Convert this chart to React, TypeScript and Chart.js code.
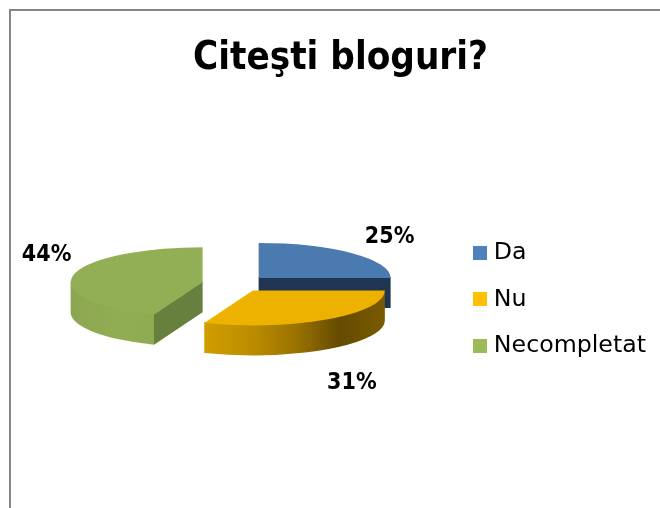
import React, { useEffect, useRef } from "react";
import { Chart, registerables } from "chart.js";

Chart.register(...registerables);

const categories = ["Da", "Nu", "Necompletat"];
const shares = [25, 31, 44];
const valueLabels = ["25%", "31%", "44%"];

const legendColors = ["#4F81BD", "#FFC000", "#9BBB59"];
const topColors = ["#4A7AB0", "#EDB200", "#93AF56"];
const cutFaceColors = ["#1F3552", "#8A6800", "#68803D"];
const wallStops: string[][] = [
  ["#2F4F78", "#2F4F78"],
  ["#D09E00", "#BE8E00", "#9B7400", "#654B00", "#7A5B00"],
  ["#8BA64F", "#8FAB52", "#92AE55", "#8FAB52"],
];
const explode = [32, 30, 34];
const labelNudge = [
  [131, -41],
  [99, 93],
  [-156, -27],
];

const TILT = 0.265;
const DEPTH = 30;
const RADIUS = 132;
const LIFT = -15.5;
const SHIFT_X = -4;
const BOLD = "'DejaVu Sans Condensed', 'DejaVu Sans', sans-serif";
const REGULAR = "'DejaVu Sans', sans-serif";

function swatch(color: string) {
  const c = document.createElement("canvas");
  c.width = 14;
  c.height = 14;
  const g = c.getContext("2d")!;
  g.fillStyle = color;
  g.fillRect(0, 0, 14, 14);
  return c;
}

const pie3d = {
  id: "pie3d",
  beforeDraw(chart: any) {
    const { ctx } = chart;
    ctx.save();
    ctx.strokeStyle = "#868686";
    ctx.lineWidth = 2;
    ctx.strokeRect(10, 10, chart.width + 20, chart.height + 20);
    ctx.restore();
  },
  beforeDatasetDraw(chart: any) {
    const { ctx } = chart;
    const arcs = chart.getDatasetMeta(0).data;
    const order = [0, 2, 1];
    const tau = Math.PI * 2;
    for (const i of order) {
      const arc = arcs[i];
      const mid = (arc.startAngle + arc.endAngle) / 2;
      const d = explode[i];
      const cx = arc.x + SHIFT_X + Math.cos(mid) * d;
      const cy = arc.y + LIFT + Math.sin(mid) * d * TILT;
      const R = arc.outerRadius;
      const ry = R * TILT;
      const a0 = arc.startAngle;
      const a1 = arc.endAngle;
      const px = (a: number) => cx + Math.cos(a) * R;
      const py = (a: number) => cy + Math.sin(a) * ry;

      const face = (a: number) => {
        ctx.beginPath();
        ctx.moveTo(cx, cy - 1);
        ctx.lineTo(px(a), py(a) - 1);
        ctx.lineTo(px(a), py(a) + DEPTH);
        ctx.lineTo(cx, cy + DEPTH);
        ctx.closePath();
        ctx.fillStyle = cutFaceColors[i];
        ctx.fill();
      };
      if (Math.cos(a0) < -1e-6) face(a0);
      if (Math.cos(a1) > 1e-6) face(a1);

      // outer wall: the part of the rim that faces the viewer
      for (const k of [0, 1]) {
        const lo = Math.max(a0, k * tau);
        const hi = Math.min(a1, k * tau + Math.PI);
        if (hi - lo < 1e-3) continue;
        const xa = px(hi);
        const xb = px(lo);
        const g = ctx.createLinearGradient(Math.min(xa, xb), 0, Math.max(xa, xb), 0);
        wallStops[i].forEach((c, n) => g.addColorStop(n / (wallStops[i].length - 1), c));
        ctx.beginPath();
        ctx.ellipse(cx, cy - 1, R, ry, 0, lo, hi);
        ctx.ellipse(cx, cy + DEPTH, R, ry, 0, hi, lo, true);
        ctx.closePath();
        ctx.fillStyle = g;
        ctx.fill();
      }

      ctx.beginPath();
      ctx.moveTo(cx, cy);
      ctx.ellipse(cx, cy, R, ry, 0, a0, a1);
      ctx.closePath();
      ctx.fillStyle = topColors[i];
      ctx.fill();
    }
    return false;
  },
  afterDraw(chart: any) {
    const { ctx } = chart;
    const arcs = chart.getDatasetMeta(0).data;
    ctx.save();
    ctx.font = `bold 23px ${BOLD}`;
    ctx.fillStyle = "#000";
    ctx.textAlign = "center";
    ctx.textBaseline = "middle";
    arcs.forEach((arc: any, i: number) => {
      const mid = (arc.startAngle + arc.endAngle) / 2;
      const cx = arc.x + SHIFT_X + Math.cos(mid) * explode[i];
      const cy = arc.y + LIFT + Math.sin(mid) * explode[i] * TILT;
      ctx.fillText(valueLabels[i], cx + labelNudge[i][0], cy + labelNudge[i][1]);
    });
    ctx.restore();
  },
};

export default function App() {
  const ref = useRef<HTMLCanvasElement>(null);
  useEffect(() => {
    const chart = new Chart(ref.current!, {
      type: "pie",
      data: {
        labels: categories,
        datasets: [
          {
            data: shares,
            backgroundColor: legendColors,
            borderWidth: 0,
            radius: RADIUS,
          } as any,
        ],
      },
      options: {
        responsive: false,
        animation: false,
        layout: { padding: { left: 25, right: 25, top: 0, bottom: 20 } },
        plugins: {
          tooltip: { enabled: false },
          title: {
            display: true,
            text: "Citeşti bloguri?",
            color: "#000",
            font: { family: BOLD, size: 38.2, weight: "bold" },
            padding: { top: 36, bottom: 29 },
          },
          legend: {
            position: "right",
            fullSize: false,
            labels: {
              color: "#000",
              font: { family: REGULAR, size: 23.7 },
              padding: 23,
              usePointStyle: true,
              pointStyleWidth: 4,
              boxHeight: 14,
              generateLabels(c: any) {
                const items = Chart.overrides.pie.plugins.legend.labels.generateLabels(c);
                return items.map((it: any, i: number) => ({
                  ...it,
                  pointStyle: swatch(legendColors[i]),
                }));
              },
            },
          },
        },
      },
      plugins: [pie3d],
    } as any);
    return () => chart.destroy();
  }, []);
  return (
    <div style={{ position: "absolute", left: 0, top: 0, width: 660, height: 508, overflow: "hidden", background: "#fff" }}>
      <canvas ref={ref} width={681} height={508} style={{ display: "block" }} />
    </div>
  );
}
